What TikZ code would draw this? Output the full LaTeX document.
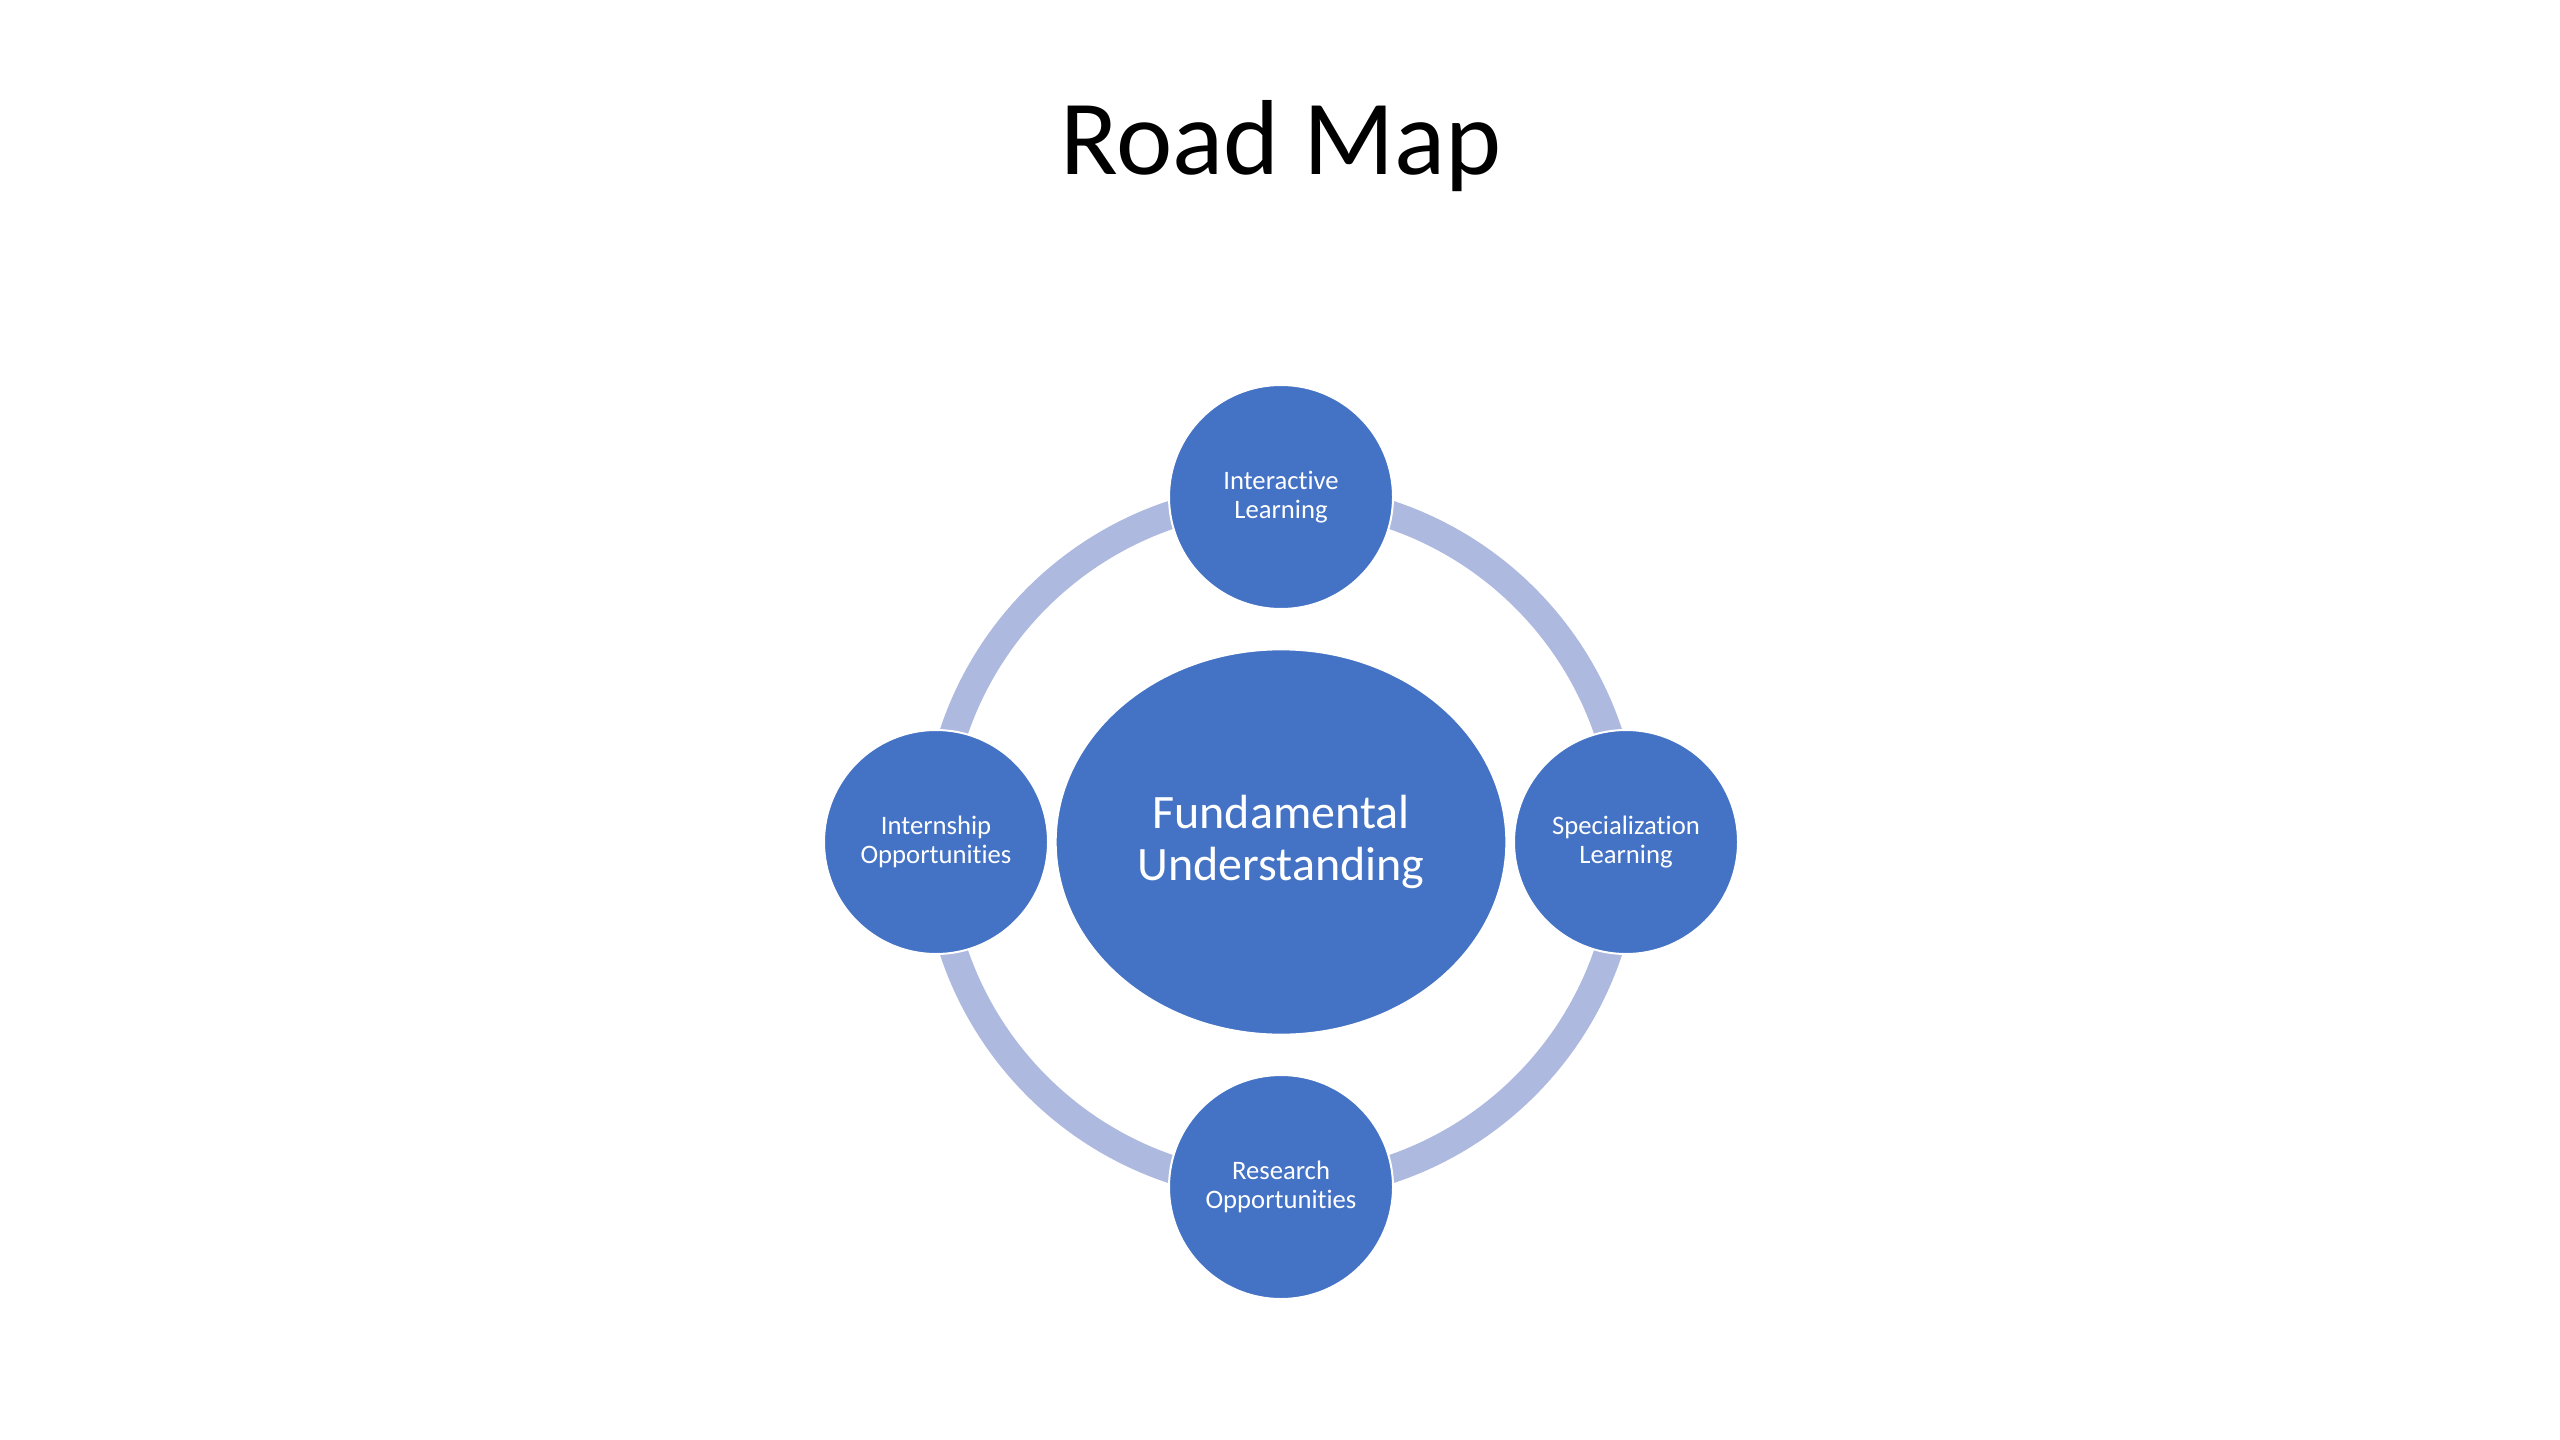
\documentclass[tikz,border=0pt]{standalone}
\usepackage{fontspec}
\setmainfont[Ligatures=NoCommon]{Carlito}
\usetikzlibrary{shapes.geometric}
\definecolor{nodeblue}{HTML}{4472C4}
\definecolor{ringblue}{HTML}{ADB9DF}
\tikzset{
  satellite/.style={circle, fill=nodeblue, draw=white, line width=0.75pt,
    minimum size=84pt, inner sep=0pt, align=center, text=white,
    font=\fontsize{10}{11}\selectfont},
  hub/.style={ellipse, fill=nodeblue, draw=white, line width=0.75pt,
    minimum width=169pt, minimum height=144.5pt, inner sep=0pt, align=center,
    text=white, font=\fontsize{18}{19.8}\selectfont},
  ringline/.style={draw=ringblue, line width=10.5pt},
  titletext/.style={font=\fontsize{40}{48}\selectfont, text=black, inner sep=0pt}
}
\begin{document}
\begin{tikzpicture}[x=0.375pt,y=-0.375pt]
\useasboundingbox (0,0) rectangle (2560,1440);
\node[titletext, anchor=base] (title) at (1281,175) {Road Map};
\coordinate (ctr) at (1281,842);
\draw[ringline] (ctr) circle[radius=129.4pt];
\node[hub] (fund) at (ctr) {Fundamental\\Understanding};
\node[satellite] (inter) at (1281,497) {Interactive\\Learning};
\node[satellite] (spec) at (1626,842) {Specialization\\Learning};
\node[satellite] (res) at (1281,1187) {Research\\Opportunities};
\node[satellite] (intern) at (936,842) {Internship\\Opportunities};
\end{tikzpicture}
\end{document}
